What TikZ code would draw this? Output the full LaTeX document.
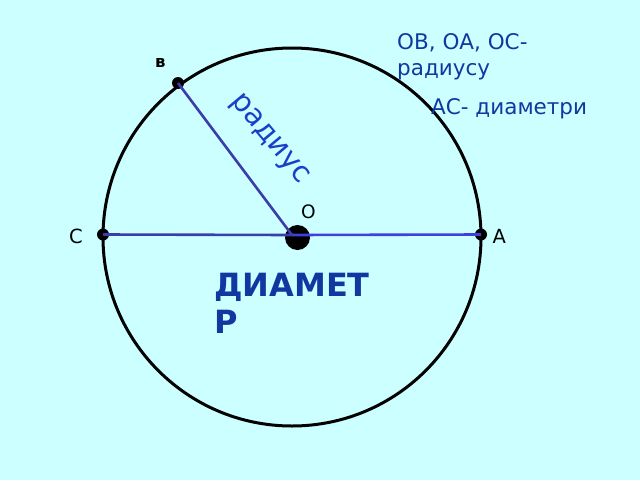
\documentclass[tikz,border=0pt]{standalone}
\usepackage{fontspec}
\setmainfont{DejaVu Sans}
\definecolor{bgc}{RGB}{204,255,255}
\definecolor{txtblue}{RGB}{16,56,160}
\definecolor{radblue}{RGB}{24,64,200}
\definecolor{lineA}{RGB}{60,60,170}
\definecolor{lineB}{RGB}{64,64,220}
\tikzset{
  lbl/.style={inner sep=0pt, anchor=base west, text=black},
  note/.style={inner sep=0pt, anchor=base west, text=txtblue, font=\fontsize{21.5}{26}\selectfont},
  dot/.style={circle, fill=black, inner sep=0pt, minimum size=12pt},
  seg/.style={line width=2.6pt},
}
\begin{document}
\begin{tikzpicture}[x=1pt,y=-1pt]
\fill[bgc] (0,0) rectangle (640,480);
\useasboundingbox (0,0) rectangle (640,480);
\coordinate (Oc) at (292,235);
\draw[line width=3pt] (292,237) circle (189);
\node[dot] (B) at (178,83) {};
\node[dot] (C) at (103,234.5) {};
\node[dot] (A) at (481,234.5) {};
\node[circle, fill=black, inner sep=0pt, minimum size=25pt] (O) at (297.5,237.5) {};
\draw[seg, lineA] (C.center) -- (Oc);
\draw[seg, lineB] (Oc) -- (A.center);
\draw[seg, lineA] (B.center) -- (Oc);
\node[lbl, font=\fontsize{18.5}{20}\selectfont] (lO) at (301,218) {О};
\node[lbl, font=\fontsize{19.5}{20}\selectfont] (lC) at (69,243.5) {С};
\node[lbl, font=\fontsize{19.5}{20}\selectfont] (lA) at (492.5,243.5) {А};
\node[lbl, font=\bfseries\fontsize{16.5}{18}\selectfont] (lB) at (155,67) {в};
\node[note] (t1) at (397,49.5) {ОВ, ОА, ОС-};
\node[note] (t2) at (397,75) {радиусу};
\node[note] (t3) at (431,114) {АС- диаметри};
\node[inner sep=0pt, text=radblue, font=\fontsize{29}{30}\selectfont, rotate=-50] (rad) at (269,140) {радиус};
\node[inner sep=0pt, anchor=base west, text=txtblue, font=\bfseries\fontsize{32}{37}\selectfont] (d1) at (214,296) {ДИАМЕТ};
\node[inner sep=0pt, anchor=base west, text=txtblue, font=\bfseries\fontsize{32}{37}\selectfont] (d2) at (214,333) {Р};
\end{tikzpicture}
\end{document}
